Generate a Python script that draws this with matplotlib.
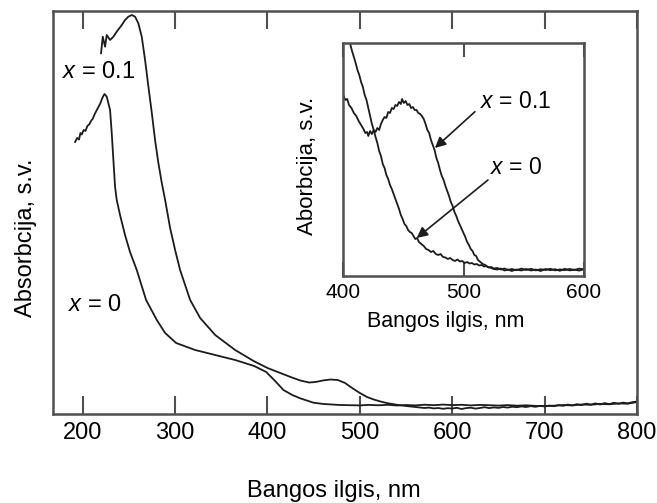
import matplotlib
matplotlib.use("Agg")
import matplotlib.pyplot as plt

plt.rcParams['font.family'] = ['Liberation Sans', 'DejaVu Sans']
plt.rcParams['mathtext.fontset'] = 'custom'
plt.rcParams['mathtext.it'] = 'Liberation Sans:italic'
plt.rcParams['mathtext.rm'] = 'Liberation Sans'

# ---------------- main spectrum data (wavelength nm, absorbance a.u.) -------------
wl_x01 = [219.8, 221.7, 224.2, 226.0, 229.6, 233.2, 236.8, 242.3, 245.8, 249.4, 253.1,
          256.7, 260.2, 263.9, 267.5, 271.1, 274.8, 278.3, 281.9, 285.6, 289.2, 294.6,
          300.0, 305.4, 316.3, 327.1, 343.4, 365.0, 385.0, 400.0, 413.9, 425.0, 435.5,
          445.0, 452.0, 460.0, 468.0, 476.0, 484.0, 490.0, 500.0, 507.7, 515.0, 522.3,
          530.0, 540.2, 550.0, 558.2, 565, 570, 575, 580, 585, 590, 595, 600, 605, 610,
          615, 620, 625, 630, 635, 640, 645, 650, 655, 660, 665, 670, 675, 680, 685,
          690, 695, 700, 705, 710, 715, 720, 725, 730, 735, 740, 745, 750, 755, 760,
          765, 770, 775, 780, 785, 790, 795, 800]
ab_x01 = [360.7, 377.3, 367.3, 379.0, 374.0, 377.3, 382.3, 389.0, 394.0, 397.3, 399.0,
          397.3, 390.7, 377.3, 354.0, 327.3, 301.0, 274.0, 251.0, 231.0, 214.0, 186.0,
          164.0, 144.0, 114.0, 96.0, 79.0, 64.0, 53.0, 46.0, 41.0, 37.0, 33.5,
          31.5, 32.0, 33.5, 34.5, 34.0, 31.0, 27.0, 21.0, 17.0, 14.5, 12.5,
          10.8, 9.2, 8.0, 7.2, 6.5, 6.0, 6.4, 5.6, 6.0, 5.2, 5.8, 5.5, 6.2, 5.0,
          5.9, 6.3, 5.4, 6.0, 6.8, 5.9, 6.6, 6.1, 7.0, 6.4, 7.3, 6.8, 7.6, 7.0, 7.9,
          7.2, 8.1, 7.6, 8.4, 7.8, 8.9, 8.2, 9.4, 8.6, 9.8, 8.9, 10.3, 9.4, 10.6, 9.5,
          10.9, 9.9, 11.2, 10.2, 11.4, 10.6, 11.8, 12.5]

wl_x0 = [191.7, 194.0, 196.0, 197.5, 199.0, 201.0, 203.0, 205.0, 207.0, 209.0, 211.0,
         213.0, 215.0, 217.0, 219.0, 221.0, 222.3, 223.6, 226.0, 229.6, 231.4, 233.2,
         235.0, 236.8, 240.4, 245.8, 251.2, 258.5, 268.6, 280.2, 289.2, 301.1, 321.7,
         343.3, 365.0, 385.6, 398.6, 408.3, 417.3, 426.8, 435.4, 449.8, 460.7, 478.8,
         500, 510, 520, 530, 540, 550, 560, 570, 580, 590, 600, 610, 620, 630, 640,
         650, 660, 670, 680, 690, 700, 710, 720, 730, 740, 750, 760, 770, 780, 790, 800]
ab_x0 = [272.0, 276.0, 274.5, 281.0, 279.5, 284.0, 283.0, 288.0, 289.5, 293.0, 295.5,
         300.0, 303.5, 307.0, 310.5, 315.5, 318.0, 320.0, 317.3, 304.0, 281.0, 254.0,
         227.3, 214.0, 199.0, 179.0, 162.0, 144.0, 114.0, 94.0, 81.0, 71.0, 64.0,
         59.0, 54.0, 48.0, 42.0, 33.0, 24.0, 19.0, 15.7, 11.3, 10.0, 9.0,
         8.6, 9.1, 8.7, 9.2, 8.5, 9.0, 8.6, 9.3, 8.8, 9.4, 8.9, 9.2, 8.6, 9.1, 8.8,
         8.4, 8.9, 8.3, 8.7, 8.1, 8.0, 8.3, 8.9, 8.6, 9.5, 9.2, 10.1, 9.7, 10.6, 10.3, 12.0]

# ---------------- inset data (400-600 nm) ----------------
in_wl_x0 = [405.8, 407.5, 409, 410.5, 412, 413.5, 415, 416.5, 418, 419.5, 421, 422.5,
            424, 425.5, 427, 428.5, 430, 431.5, 433, 434.5, 436, 437.5, 439, 440.5,
            442, 443.5, 445, 446.5, 448, 449.5, 451, 452.5, 454, 455.5, 457, 458.5,
            460, 461.5, 463, 465, 467, 469, 471, 473, 475, 477, 479, 481, 483, 485,
            487, 489, 491, 493, 495, 497, 499, 501, 503, 505, 507, 509, 511, 513,
            515, 517, 519, 521, 523, 525, 528, 531, 534, 537, 540, 544, 548, 552,
            556, 560, 564, 568, 572, 576, 580, 584, 588, 592, 596, 599.4]
in_ab_x0 = [232.7, 225, 219, 213, 206, 201, 194, 189, 181, 176, 168, 160,
            152, 146, 139, 133, 125, 120, 112, 108, 101, 97, 91, 87,
            82, 77, 72, 67, 61, 57, 52, 50, 46, 44, 43, 40,
            37, 38, 34, 32, 30, 27, 26, 24, 25, 22, 21, 22, 19, 18.5,
            17, 18, 16, 15, 16.5, 14.5, 15, 13, 14, 12.5, 13, 11.5, 12, 10.5,
            11, 9.5, 10, 8.5, 9, 7.5, 8, 6.5, 7.5, 6, 7, 5.8, 7.4, 6,
            7.2, 5.6, 6.8, 6, 7.2, 5.6, 6.6, 5.8, 7, 6, 7.4, 6.7]

in_wl_x01 = [400.5, 402, 403.5, 405, 407, 409, 411, 413, 415, 417, 418.5, 420, 421,
             422.5, 424, 425.5, 427, 428.5, 430, 431.5, 433, 434.5, 436, 437.5, 439,
             440.5, 442, 443.5, 445, 446.5, 448, 449, 450.5, 452, 453.5, 455, 456.5,
             458, 459.5, 461, 462.5, 464, 465.5, 467, 468.5, 470, 471.5, 473, 474.5,
             476, 477.5, 479, 480.5, 482, 483.5, 485, 486.5, 488, 489.5, 491, 492.5,
             494, 495.5, 497, 498.5, 500, 501.5, 503, 504.5, 506, 507.5, 509, 510.5,
             512, 514, 516, 518, 520, 522, 525, 528, 531, 534, 537, 540, 544, 548,
             552, 556, 560, 564, 568, 572, 576, 580, 584, 588, 592, 596, 600]
in_ab_x01 = [180, 176, 177, 171, 168, 163, 160, 155, 151, 147, 143, 144, 140,
             145, 142, 146, 144, 148, 146, 152, 156, 159, 158, 164, 163,
             168, 167, 171, 170, 174, 172, 177, 173, 175, 171, 172, 168,
             169, 166, 166, 163, 162, 160, 157, 152, 146, 143, 136, 131,
             126, 118, 113, 106, 100, 96, 90, 85, 80, 74, 70, 64,
             60, 55, 51, 47, 43, 39, 34, 31, 27, 25, 21, 20,
             16, 14, 12, 11, 9, 8.5, 7, 6.5, 7.5, 5.5, 6.5, 5, 6.5, 5.5,
             7, 5.5, 6.5, 5, 7, 5.8, 6.8, 5.2, 7.2, 5.6, 6.4, 5.4, 6.8]

main_ticks = [200, 300, 400, 500, 600, 700, 800]
inset_ticks = [400, 500, 600]

line_color = '#1c1c1c'
spine_color = '#505050'

fig = plt.figure(figsize=(6.57, 5.03), dpi=100)
W, H = 657.0, 503.0

# ---------------- main axes ----------------
ax = fig.add_axes([52.7 / W, 1 - 414 / H, (637 - 52.7) / W, (414 - 10.7) / H])
ax.plot(wl_x01, ab_x01, color=line_color, lw=1.3)
ax.plot(wl_x0, ab_x0, color=line_color, lw=1.3)
ax.set_xlim(167.5, 800)
ax.set_ylim(0, 403.3)
ax.set_xticks(main_ticks)
ax.set_xticklabels([str(t) for t in main_ticks])
ax.set_yticks([])
ax.tick_params(axis='x', direction='in', length=13, width=1.5, color=spine_color,
               top=True, labelsize=17, pad=6)
for s in ax.spines.values():
    s.set_color(spine_color)
    s.set_linewidth(1.8)
ax.text(177.2, 342.3, '$x$ = 0.1', fontsize=17, va='center', ha='left')
ax.text(184.4, 109, '$x$ = 0', fontsize=17, va='center', ha='left')
fig.text(334 / W, 1 - 491 / H, 'Bangos ilgis, nm', fontsize=17, ha='center', va='center')
fig.text(26 / W, 1 - 238 / H, 'Absorbcija, s.v.', fontsize=17, ha='center', va='center',
         rotation=90)

# ---------------- inset ----------------
ins = fig.add_axes([343 / W, 1 - 276 / H, 241 / W, 233 / H])
ins.set_facecolor('white')
ins.plot(in_wl_x01, in_ab_x01, color=line_color, lw=1.3)
ins.plot(in_wl_x0, in_ab_x0, color=line_color, lw=1.3)
ins.set_xlim(400, 600)
ins.set_ylim(0, 233)
ins.set_xticks(inset_ticks)
ins.set_xticklabels([str(t) for t in inset_ticks])
ins.set_yticks([])
ins.tick_params(axis='x', direction='in', length=10, width=1.5, color=spine_color,
                top=True, labelsize=15, pad=5)
for s in ins.spines.values():
    s.set_color(spine_color)
    s.set_linewidth(1.8)

arrow = dict(arrowstyle='-|>', color=line_color, lw=1.2, mutation_scale=16,
             shrinkA=0, shrinkB=0)
ins.annotate('', xy=(476.3, 128.0), xytext=(509.5, 164.3), arrowprops=arrow)
ins.annotate('', xy=(461.2, 38.0), xytext=(520.3, 96.0), arrowprops=arrow)
ins.text(513.7, 174.3, '$x$ = 0.1', fontsize=16.5, va='center', ha='left')
ins.text(522.0, 108.0, '$x$ = 0', fontsize=16.5, va='center', ha='left')
fig.text(446 / W, 1 - 322 / H, 'Bangos ilgis, nm', fontsize=15.5, ha='center', va='center')
fig.text(308 / W, 1 - 166 / H, 'Aborbcija, s.v.', fontsize=16, ha='center', va='center',
         rotation=90)

fig.savefig('out.png', dpi=100, facecolor='white')
